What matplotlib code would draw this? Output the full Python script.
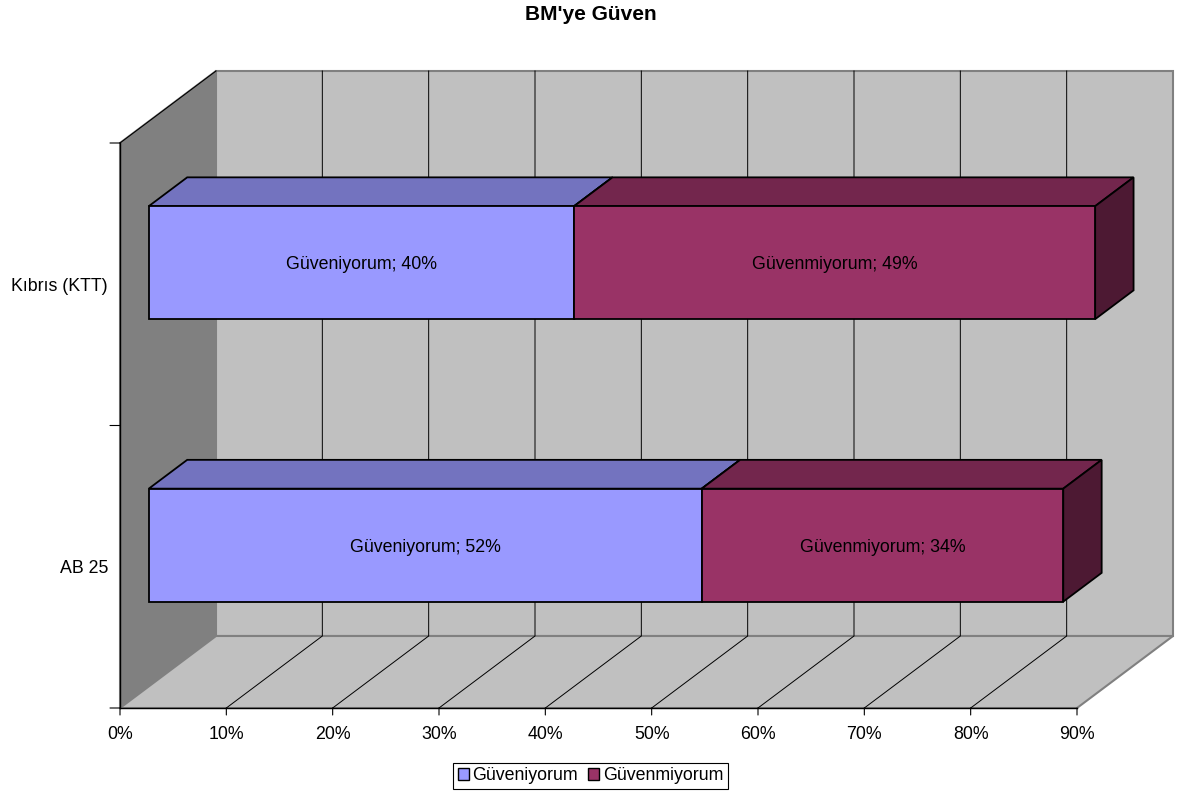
import matplotlib
matplotlib.use("Agg")
import matplotlib.pyplot as plt
from matplotlib.patches import Polygon, Patch

categories = ["AB 25", "Kıbrıs (KTT)"]
trust = [52, 40]
distrust = [34, 49]
series_names = ["Güveniyorum", "Güvenmiyorum"]
x_ticks = [0, 10, 20, 30, 40, 50, 60, 70, 80, 90]
title = "BM'ye Güven"

W, H = 1177, 794
# front plane of the chart box, in pixels
LEFT, RIGHT, TOP, BOTTOM = 120, 1077, 143, 708
# depth of the 3D box, in pixels
DEPTH_X, DEPTH_Y = 96, 72
BAR_NEAR, BAR_FAR = 0.30, 0.70
BAR_H = 0.40

plt.rcParams['font.family'] = ['Liberation Sans', 'DejaVu Sans']
plt.rcParams['font.size'] = 12.8

fig = plt.figure(figsize=(W / 100, H / 100), dpi=100)
ax = fig.add_axes([LEFT / W, 1 - BOTTOM / H, (RIGHT - LEFT) / W, (BOTTOM - TOP) / H])
ax.set_xlim(0, 90)
ax.set_ylim(0, 2)
ax.axis("off")

sx = DEPTH_X / ((RIGHT - LEFT) / 90)
sy = DEPTH_Y / ((BOTTOM - TOP) / 2)


def p(x, y, d=0.0):
    return (x + d * sx, y + d * sy)


def poly(pts, fc, ec, lw=1.0, z=1):
    ax.add_patch(Polygon(pts, closed=True, facecolor=fc, edgecolor=ec, lw=lw,
                         zorder=z, clip_on=False, joinstyle="miter"))


# walls and floor
poly([p(0, 0), p(0, 2), p(0, 2, 1), p(0, 0, 1)], "#808080", "#808080", 1.5, 1)
poly([p(0, 0, 1), p(0, 2, 1), p(90, 2, 1), p(90, 0, 1)], "#c0c0c0", "#808080", 1.5, 1)
poly([p(0, 0), p(90, 0), p(90, 0, 1), p(0, 0, 1)], "#c0c0c0", "#808080", 1.5, 1)

# grid lines on floor and back wall, the last tick sits on the box edge
for t in x_ticks[1:-1]:
    x0, y0 = p(t, 0)
    x1, y1 = p(t, 0, 1)
    x2, y2 = p(t, 2, 1)
    ax.plot([x0, x1, x2], [y0, y1, y2], color="black", lw=0.7, zorder=2, clip_on=False)

# axis lines and ticks
ax.plot([0, 90], [0, 0], color="black", lw=1.0, zorder=3, clip_on=False)
ax.plot([0, 0], [0, 2], color="black", lw=1.0, zorder=3, clip_on=False)
ax.plot(*zip(p(0, 2), p(0, 2, 1)), color="black", lw=0.8, zorder=3, clip_on=False)
for t in x_ticks:
    ax.annotate("", xy=(t, 0), xytext=(0, -7), textcoords="offset pixels",
                arrowprops=dict(arrowstyle="-", color="black", lw=0.8, shrinkA=0, shrinkB=0),
                annotation_clip=False)
    ax.annotate(f"{t}%", xy=(t, 0), xytext=(0, -26.5), textcoords="offset pixels",
                ha="center", va="center", annotation_clip=False)
for y in range(3):
    ax.annotate("", xy=(0, y), xytext=(-10, 0), textcoords="offset pixels",
                arrowprops=dict(arrowstyle="-", color="black", lw=0.8, shrinkA=0, shrinkB=0),
                annotation_clip=False)


def bar3d(start, value, center, front, top, side, label):
    y0 = center - BAR_H / 2
    y1 = center + BAR_H / 2
    end = start + value
    lw = 1.3
    poly([p(start, y1, BAR_NEAR), p(end, y1, BAR_NEAR), p(end, y1, BAR_FAR), p(start, y1, BAR_FAR)], top, "black", lw, 4)
    poly([p(end, y0, BAR_NEAR), p(end, y0, BAR_FAR), p(end, y1, BAR_FAR), p(end, y1, BAR_NEAR)], side, "black", lw, 4)
    poly([p(start, y0, BAR_NEAR), p(end, y0, BAR_NEAR), p(end, y1, BAR_NEAR), p(start, y1, BAR_NEAR)], front, "black", lw, 5)
    tx, ty = p(start + value / 2, center, BAR_NEAR)
    ax.annotate(label, xy=(tx, ty), xytext=(0, -2), textcoords="offset pixels",
                ha="center", va="center", zorder=6, annotation_clip=False)


for i, cat in enumerate(categories):
    c = i + 0.5
    bar3d(0, trust[i], c, "#9999ff", "#7373bf", "#4d4d80", f"{series_names[0]}; {trust[i]}%")
    bar3d(trust[i], distrust[i], c, "#993366", "#73264d", "#4d1933", f"{series_names[1]}; {distrust[i]}%")
    ax.annotate(cat, xy=(0, c), xytext=(-12, -2), textcoords="offset pixels",
                ha="right", va="center", annotation_clip=False)

fig.text(591 / W, 1 - 15 / H, title, ha="center", va="center", fontweight="bold", fontsize=15)

handles = [Patch(facecolor="#9999ff", edgecolor="black"), Patch(facecolor="#993366", edgecolor="black")]
leg = fig.legend(handles, series_names, loc="center", bbox_to_anchor=(590.5 / W, 1 - 776 / H),
                 ncol=2, fancybox=False, framealpha=1, edgecolor="black",
                 handlelength=0.62, handleheight=0.62, handletextpad=0.22, columnspacing=0.56,
                 borderpad=0.25, borderaxespad=0)
leg.get_frame().set_linewidth(0.8)

fig.savefig("out.png", dpi=100)
